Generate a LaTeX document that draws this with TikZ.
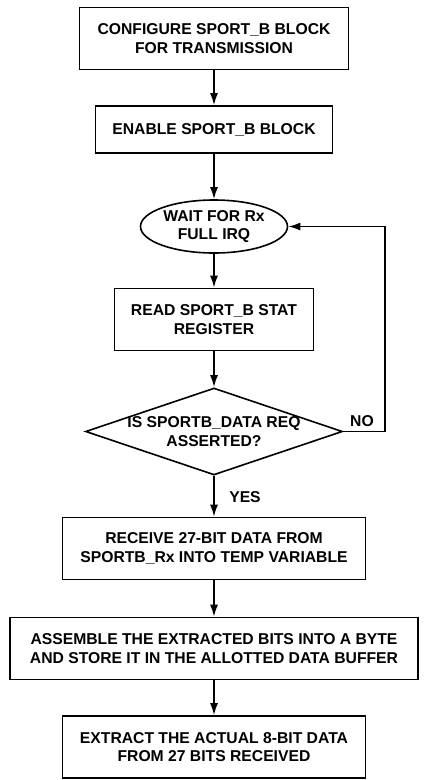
\documentclass[tikz,border=0pt]{standalone}
\usepackage{fontspec}
\setmainfont{Liberation Sans}
\usetikzlibrary{shapes.geometric,arrows.meta}
\begin{document}
\begin{tikzpicture}[x=1pt,y=-1pt]
	\pgfmathsetmacro{\midX}{214}
	\tikzstyle{every node}=[font=\bfseries\fontsize{15.7}{18.5}\selectfont]
	\tikzstyle{stepbox}=[draw, line width=1.6pt, align=center, inner sep=0pt, minimum height=62pt]
	\tikzstyle{waitbox}=[draw, ellipse, line width=1.6pt, align=center, inner sep=0pt, minimum width=147pt, minimum height=53pt]
	\tikzstyle{askbox}=[draw, diamond, aspect=2.95, line width=1.6pt, inner sep=0pt, minimum width=257pt, minimum height=87pt]
	\tikzstyle{flow}=[line width=1.6pt, -{Latex[length=12pt,width=8pt]}]
	\tikzstyle{lbl}=[inner sep=0pt, align=center]

	\useasboundingbox (0,0) rectangle (432,780);

	\node[stepbox, minimum width=269pt] (cfg) at (\midX, 38.5) {CONFIGURE SPORT\_B BLOCK\\FOR TRANSMISSION};
	\node[stepbox, minimum width=237pt, minimum height=47pt] (en) at (\midX, 129.5) {ENABLE SPORT\_B BLOCK};
	\node[waitbox] (wait) at (\midX, 226.5) {WAIT FOR Rx\\FULL IRQ};
	\node[stepbox, minimum width=199pt] (rd) at (\midX, 319.5) {READ SPORT\_B STAT\\REGISTER};
	\node[askbox] (ask) at (\midX, 431.5) {};
	\node[lbl] (askText) at (ask.center) {IS SPORTB\_DATA REQ\\ASSERTED?};
	\node[stepbox, minimum width=303pt] (rcv) at (\midX, 548.5) {RECEIVE 27-BIT DATA FROM\\SPORTB\_Rx INTO TEMP VARIABLE};
	\node[stepbox, minimum width=408pt] (asm) at (\midX, 648.5) {ASSEMBLE THE EXTRACTED BITS INTO A BYTE\\AND STORE IT IN THE ALLOTTED DATA BUFFER};
	\node[stepbox, minimum width=303pt] (ext) at (\midX, 747) {EXTRACT THE ACTUAL 8-BIT DATA\\FROM 27 BITS RECEIVED};

	\coordinate (loop) at (385, 431.5);

	\draw[flow] (cfg) -- (en);
	\draw[flow] (en) -- (wait);
	\draw[flow] (wait) -- (rd);
	\draw[flow] (rd) -- (ask);
	\draw[flow] (ask) -- (rcv);
	\draw[flow] (rcv) -- (asm);
	\draw[flow] (asm) -- (ext);
	\draw[flow] (ask.east) -- (loop) |- (wait.east);

	\node[lbl] (no) at (362, 421) {NO};
	\node[lbl] (yes) at (245, 497) {YES};
\end{tikzpicture}
\end{document}
